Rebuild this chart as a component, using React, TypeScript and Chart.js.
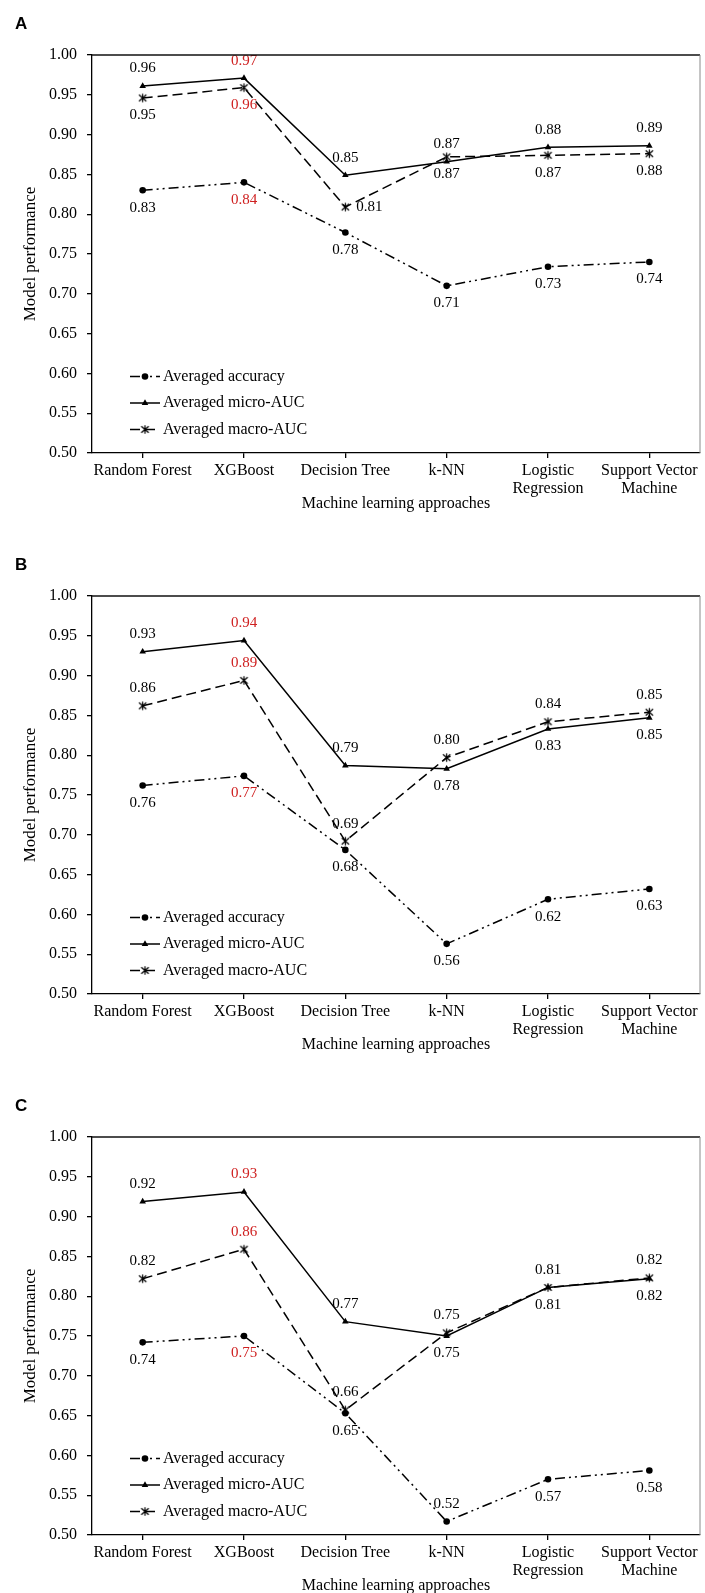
import React, { useEffect, useRef } from "react";
import { Chart, registerables } from "chart.js";

Chart.register(...registerables);

// ---------- data ----------
const CATEGORIES: (string | string[])[] = [
  "Random Forest",
  "XGBoost",
  "Decision Tree",
  "k-NN",
  ["Logistic", "Regression"],
  ["Support Vector", "Machine"],
];
const SERIES_NAMES = ["Averaged accuracy", "Averaged micro-AUC", "Averaged macro-AUC"];
const Y_TICKS = [0.5, 0.55, 0.6, 0.65, 0.7, 0.75, 0.8, 0.85, 0.9, 0.95, 1.0];
const X_TITLE = "Machine learning approaches";
const Y_TITLE = "Model performance";
const PANEL_LETTERS = ["A", "B", "C"];
const HIGHLIGHT_CATEGORY = "XGBoost";

const A_ACCURACY = [0.83, 0.84, 0.777, 0.71, 0.734, 0.74];
const A_MICRO_AUC = [0.961, 0.971, 0.849, 0.866, 0.884, 0.886];
const A_MACRO_AUC = [0.946, 0.959, 0.809, 0.872, 0.874, 0.876];

const B_ACCURACY = [0.762, 0.774, 0.681, 0.563, 0.619, 0.632];
const B_MICRO_AUC = [0.93, 0.944, 0.787, 0.783, 0.833, 0.847];
const B_MACRO_AUC = [0.862, 0.894, 0.692, 0.797, 0.842, 0.854];

const C_ACCURACY = [0.742, 0.75, 0.653, 0.517, 0.57, 0.581];
const C_MICRO_AUC = [0.919, 0.931, 0.768, 0.75, 0.811, 0.822];
const C_MACRO_AUC = [0.822, 0.859, 0.657, 0.754, 0.811, 0.823];

// value-label placement: a = above, b = below, r = right  (accuracy, micro, macro)
const A_LABEL_POS = ["bbbbbb", "aaaaaa", "bbrbbb"];
const B_LABEL_POS = ["bbbbbb", "aaabbb", "aaaaaa"];
const C_LABEL_POS = ["bbbabb", "aaabbb", "aaaaaa"];

// ---------- styles ----------
const SERIF = '"Liberation Serif", "Times New Roman", Times, serif';
const RED = "#cf2020";
const DASHES: number[][] = [[10, 4, 2, 4, 2, 4], [], [10, 5]];
const LEGEND_ROWS = [321.5, 348, 374.5];
const CANVAS_W = 705;
const CANVAS_H = 541;

function makeAsterisk(): HTMLCanvasElement {
  const c = document.createElement("canvas");
  c.width = 11;
  c.height = 11;
  const g = c.getContext("2d")!;
  g.strokeStyle = "#000";
  g.lineWidth = 1.2;
  g.beginPath();
  g.moveTo(1.8, 2.2);
  g.lineTo(9.2, 8.8);
  g.moveTo(9.2, 2.2);
  g.lineTo(1.8, 8.8);
  g.moveTo(5.5, 1.2);
  g.lineTo(5.5, 9.8);
  g.stroke();
  return c;
}

function drawMarker(ctx: CanvasRenderingContext2D, kind: number, x: number, y: number, star: HTMLCanvasElement) {
  ctx.save();
  ctx.setLineDash([]);
  ctx.fillStyle = "#000";
  if (kind === 0) {
    ctx.beginPath();
    ctx.arc(x, y, 3.3, 0, Math.PI * 2);
    ctx.fill();
  } else if (kind === 1) {
    const r = 3.8;
    ctx.beginPath();
    ctx.moveTo(x, y - r);
    ctx.lineTo(x + r * 0.866, y + r / 2);
    ctx.lineTo(x - r * 0.866, y + r / 2);
    ctx.closePath();
    ctx.fill();
  } else {
    ctx.drawImage(star, x - star.width / 2, y - star.height / 2);
  }
  ctx.restore();
}

type PanelProps = {
  letter: string;
  series: number[][];
  placements: string[];
  top: number;
};

function Panel({ letter, series, placements, top }: PanelProps) {
  const ref = useRef<HTMLCanvasElement>(null);

  useEffect(() => {
    const canvas = ref.current;
    if (!canvas) return;
    const star = makeAsterisk();

    const decor = {
      id: "decor",
      afterDatasetsDraw(chart: any) {
        const ctx: CanvasRenderingContext2D = chart.ctx;
        ctx.save();
        ctx.font = `15px ${SERIF}`;
        ctx.textBaseline = "middle";
        chart.data.datasets.forEach((ds: any, i: number) => {
          const meta = chart.getDatasetMeta(i);
          meta.data.forEach((pt: any, j: number) => {
            const text = Number(ds.data[j]).toFixed(2);
            const p = placements[i][j];
            let x = pt.x;
            let y = pt.y;
            ctx.textAlign = "center";
            if (p === "a") y -= 17.5;
            else if (p === "b") y += 17.5;
            else if (p === "r") {
              x += 11;
              ctx.textAlign = "left";
            }
            ctx.fillStyle = CATEGORIES[j] === HIGHLIGHT_CATEGORY ? RED : "#000";
            ctx.fillText(text, x, y);
          });
        });
        ctx.restore();
      },
      afterDraw(chart: any) {
        const ctx: CanvasRenderingContext2D = chart.ctx;
        const { left, top: t, right, bottom } = chart.chartArea;
        ctx.save();
        // frame top & right
        ctx.setLineDash([]);
        ctx.strokeStyle = "#111";
        ctx.lineWidth = 1.3;
        ctx.beginPath();
        ctx.moveTo(left, t);
        ctx.lineTo(right, t);
        ctx.stroke();
        ctx.strokeStyle = "#8a8a8a";
        ctx.lineWidth = 1;
        ctx.beginPath();
        ctx.moveTo(right, t);
        ctx.lineTo(right, bottom);
        ctx.stroke();
        // panel letter
        ctx.fillStyle = "#000";
        ctx.font = `bold 17px "Liberation Sans", Arial, sans-serif`;
        ctx.textAlign = "left";
        ctx.textBaseline = "alphabetic";
        ctx.fillText(letter, 15, 29);
        // legend
        chart.data.datasets.forEach((ds: any, k: number) => {
          const y = t + LEGEND_ROWS[k];
          ctx.strokeStyle = "#000";
          ctx.lineWidth = 1.5;
          ctx.setLineDash(DASHES[k]);
          ctx.beginPath();
          ctx.moveTo(130, y);
          ctx.lineTo(160, y);
          ctx.stroke();
          drawMarker(ctx, k, 145, y, star);
          ctx.setLineDash([]);
          ctx.fillStyle = "#000";
          ctx.font = `16px ${SERIF}`;
          ctx.textAlign = "left";
          ctx.textBaseline = "middle";
          ctx.fillText(ds.label, 163, y);
        });
        ctx.restore();
      },
    };

    const pointStyles: any[] = ["circle", "triangle", star];
    const radii = [3.3, 3.8, 5];

    const chart = new Chart(canvas, {
      type: "line",
      data: {
        labels: CATEGORIES as any,
        datasets: series.map((d, k) => ({
          label: SERIES_NAMES[k],
          data: d,
          borderColor: "#000",
          borderWidth: 1.5,
          borderDash: DASHES[k],
          pointStyle: pointStyles[k],
          pointRadius: radii[k],
          pointBackgroundColor: "#000",
          pointBorderColor: "#000",
          pointBorderWidth: 0,
          tension: 0,
          fill: false,
          clip: false as any,
        })),
      },
      options: {
        responsive: false,
        animation: false,
        devicePixelRatio: 1,
        layout: { padding: { top: 55, right: 1.5, bottom: 28, left: 0 } },
        plugins: { legend: { display: false }, tooltip: { enabled: false } },
        scales: {
          x: {
            type: "category",
            offset: true,
            grid: {
              display: true,
              drawOnChartArea: false,
              offset: false,
              tickLength: 5,
              color: "#000",
              lineWidth: 1.3,
            },
            border: { color: "#000", width: 1.3 },
            ticks: {
              color: "#000",
              font: { family: SERIF, size: 16, lineHeight: 1.1 },
              padding: 4,
              maxRotation: 0,
              autoSkip: false,
            },
            title: {
              display: true,
              text: X_TITLE,
              color: "#000",
              font: { family: SERIF, size: 16 },
              padding: 0,
            },
            afterFit: (s: any) => {
              s.height = CANVAS_H - 28 - 453;
            },
          },
          y: {
            min: 0.5,
            max: 1.0,
            afterBuildTicks: (s: any) => {
              s.ticks = Y_TICKS.map((v) => ({ value: v }));
            },
            grid: {
              display: true,
              drawOnChartArea: false,
              tickLength: 5,
              color: "#000",
              lineWidth: 1.3,
            },
            border: { color: "#000", width: 1.3 },
            ticks: {
              color: "#000",
              font: { family: SERIF, size: 16 },
              padding: 10,
              callback: (v: any) => Number(v).toFixed(2),
            },
            title: {
              display: true,
              text: Y_TITLE,
              color: "#000",
              font: { family: SERIF, size: 17 },
              padding: { top: 20, bottom: 0 },
            },
            afterFit: (s: any) => {
              s.width = 92;
            },
          },
        },
      } as any,
      plugins: [decor],
    });

    return () => chart.destroy();
  }, [letter, series, placements]);

  return (
    <canvas
      ref={ref}
      width={CANVAS_W}
      height={CANVAS_H}
      style={{ position: "absolute", left: 0, top, width: CANVAS_W, height: CANVAS_H }}
    />
  );
}

const PANELS = [
  { letter: PANEL_LETTERS[0], series: [A_ACCURACY, A_MICRO_AUC, A_MACRO_AUC], placements: A_LABEL_POS, top: 0 },
  { letter: PANEL_LETTERS[1], series: [B_ACCURACY, B_MICRO_AUC, B_MACRO_AUC], placements: B_LABEL_POS, top: 541 },
  { letter: PANEL_LETTERS[2], series: [C_ACCURACY, C_MICRO_AUC, C_MACRO_AUC], placements: C_LABEL_POS, top: 1082 },
];

export default function App() {
  return (
    <div
      style={{
        position: "absolute",
        left: 0,
        top: 0,
        width: 705,
        height: 1593,
        overflow: "hidden",
        background: "#fff",
      }}
    >
      {PANELS.map((p) => (
        <Panel key={p.letter} letter={p.letter} series={p.series} placements={p.placements} top={p.top} />
      ))}
    </div>
  );
}
